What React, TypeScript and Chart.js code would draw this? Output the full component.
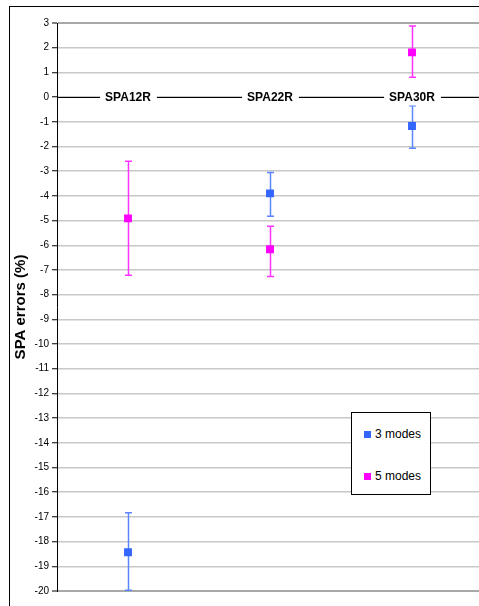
import React, { useEffect, useRef } from "react";
import { Chart, registerables } from "chart.js";

Chart.register(...registerables);

const categories = ["SPA12R", "SPA22R", "SPA30R"];

const modes3Values = [-18.43, -3.9, -1.17];
const modes3High = [-16.83, -3.05, -0.35];
const modes3Low = [-19.97, -4.83, -2.07];

const modes5Values = [-4.91, -6.16, 1.81];
const modes5High = [-2.6, -5.23, 2.88];
const modes5Low = [-7.21, -7.27, 0.8];

const yMin = -20;
const yMax = 3;

const BLUE = "#3366FF";
const BLUE_ERR = "#5a86ff";
const MAGENTA = "#FF00FF";
const MAGENTA_ERR = "#ff33ff";

const errorBars = [
  { high: modes3High, low: modes3Low, color: BLUE_ERR },
  { high: modes5High, low: modes5Low, color: MAGENTA_ERR },
];

const errorBarPlugin = {
  id: "errorBars",
  beforeDatasetsDraw(chart: any) {
    const { ctx } = chart;
    const xs = chart.scales.x;
    const ys = chart.scales.y;
    ctx.save();
    errorBars.forEach((eb) => {
      ctx.strokeStyle = eb.color;
      ctx.lineWidth = 1.5;
      eb.high.forEach((h, i) => {
        const x = Math.round(xs.getPixelForValue(i)) + 0.5;
        const yh = ys.getPixelForValue(h);
        const yl = ys.getPixelForValue(eb.low[i]);
        ctx.beginPath();
        ctx.moveTo(x, yh);
        ctx.lineTo(x, yl);
        ctx.moveTo(x - 3.5, yh);
        ctx.lineTo(x + 3.5, yh);
        ctx.moveTo(x - 3.5, yl);
        ctx.lineTo(x + 3.5, yl);
        ctx.stroke();
      });
    });
    ctx.restore();
  },
};

const zeroAxisPlugin = {
  id: "zeroAxis",
  beforeDatasetsDraw(chart: any) {
    const { ctx, chartArea } = chart;
    const xs = chart.scales.x;
    const ys = chart.scales.y;
    const y0 = Math.round(ys.getPixelForValue(0)) + 0.5;
    ctx.save();
    ctx.strokeStyle = "#000";
    ctx.lineWidth = 1;
    ctx.beginPath();
    ctx.moveTo(chartArea.left, y0);
    ctx.lineTo(chartArea.right, y0);
    ctx.stroke();
    ctx.font = "bold 12px Arial, 'Liberation Sans', sans-serif";
    ctx.textAlign = "center";
    ctx.textBaseline = "middle";
    categories.forEach((c, i) => {
      const x = xs.getPixelForValue(i);
      const w = ctx.measureText(c).width;
      ctx.fillStyle = "#fff";
      ctx.fillRect(x - w / 2 - 5, y0 - 8, w + 11, 16);
      ctx.fillStyle = "#000";
      ctx.fillText(c, x, y0);
    });
    ctx.restore();
  },
};

export default function App() {
  const canvasRef = useRef<HTMLCanvasElement | null>(null);

  useEffect(() => {
    if (!canvasRef.current) return;
    const chart = new Chart(canvasRef.current, {
      type: "line",
      data: {
        labels: categories,
        datasets: [
          {
            label: "3 modes",
            data: modes3Values,
            showLine: false,
            pointStyle: "rect",
            pointRadius: 5.6,
            pointBackgroundColor: BLUE,
            pointBorderColor: BLUE,
            pointBorderWidth: 0,
            backgroundColor: BLUE,
            borderColor: BLUE,
          },
          {
            label: "5 modes",
            data: modes5Values,
            showLine: false,
            pointStyle: "rect",
            pointRadius: 5.6,
            pointBackgroundColor: MAGENTA,
            pointBorderColor: MAGENTA,
            pointBorderWidth: 0,
            backgroundColor: MAGENTA,
            borderColor: MAGENTA,
          },
        ],
      },
      options: {
        animation: false,
        responsive: false,
        devicePixelRatio: 1,
        layout: { padding: { top: 23, bottom: 15, left: 0, right: 7 } },
        plugins: {
          legend: { display: false },
          tooltip: { enabled: false },
        },
        scales: {
          x: {
            type: "category",
            offset: true,
            display: false,
          },
          y: {
            min: yMin,
            max: yMax,
            ticks: {
              stepSize: 1,
              padding: 3,
              color: "#000",
              font: { family: "Arial, 'Liberation Sans', sans-serif", size: 10 },
            },
            grid: {
              color: (ctx: any) =>
                ctx.tick && (ctx.tick.value === yMax || ctx.tick.value === yMin)
                  ? "#a8a8a8"
                  : "#c8c8c8",
              lineWidth: (ctx: any) =>
                ctx.tick && (ctx.tick.value === yMax || ctx.tick.value === yMin) ? 2 : 1.5,
              tickColor: "#000",
              tickWidth: 1,
              tickLength: 5,
            },
            border: { color: "#000", width: 1 },
            title: {
              display: true,
              text: "SPA errors (%)",
              color: "#000",
              font: { family: "Arial, 'Liberation Sans', sans-serif", size: 15, weight: "bold" },
              padding: { top: 12, bottom: 0 },
            },
            afterFit: (scale: any) => {
              scale.width = 57;
            },
          },
        },
      },
      plugins: [errorBarPlugin, zeroAxisPlugin],
    });
    return () => chart.destroy();
  }, []);

  const legendItem = (color: string, text: string, top: number) => (
    <div
      style={{
        position: "absolute",
        left: 12,
        top: top - 8,
        height: 16,
        display: "flex",
        alignItems: "center",
        fontFamily: "Arial, 'Liberation Sans', sans-serif",
        fontSize: 12,
        color: "#000",
        whiteSpace: "nowrap",
      }}
    >
      <span style={{ display: "inline-block", width: 7, height: 7, background: color, marginRight: 4 }} />
      <span>{text}</span>
    </div>
  );

  return (
    <div
      style={{
        position: "fixed",
        left: 0,
        top: 0,
        width: 479,
        height: 606,
        overflow: "hidden",
        background: "#fff",
      }}
    >
      <div
        style={{
          position: "absolute",
          left: 9,
          top: 6,
          width: 600,
          height: 700,
          border: "1px solid #000",
          boxSizing: "border-box",
        }}
      />
      <canvas
        ref={canvasRef}
        width={490}
        height={606}
        style={{ position: "absolute", left: 0, top: 0, width: 490, height: 606 }}
      />
      <div
        style={{
          position: "absolute",
          left: 351,
          top: 412,
          width: 80,
          height: 83,
          border: "1px solid #000",
          boxSizing: "border-box",
          background: "#fff",
        }}
      >
        {legendItem(BLUE, "3 modes", 21)}
        {legendItem(MAGENTA, "5 modes", 63)}
      </div>
    </div>
  );
}
